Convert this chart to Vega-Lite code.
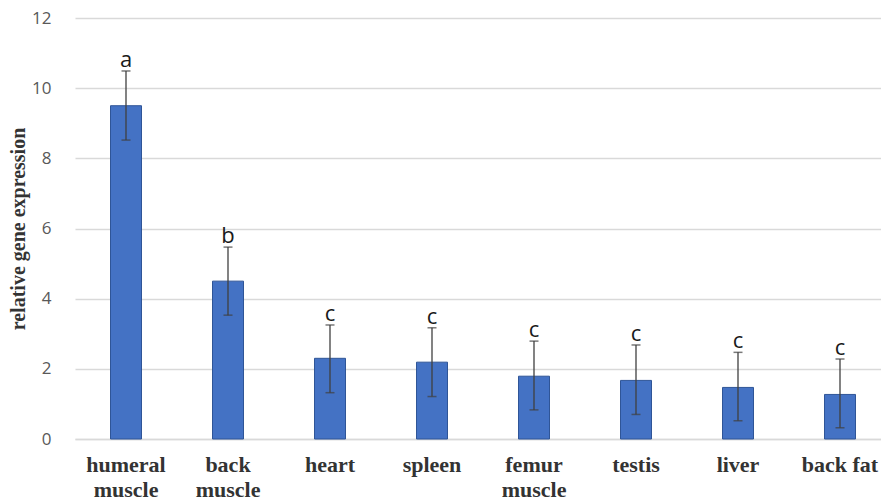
{
  "$schema": "https://vega.github.io/schema/vega-lite/v6.json",
  "autosize": "none",
  "width": 806,
  "height": 421,
  "padding": {"left": 75, "top": 18, "right": 0, "bottom": 63},
  "background": "white",
  "config": {"view": {"stroke": null}},
  "data": {
    "values": [
      {"tissue": "humeral muscle", "mean": 9.5, "lo": 8.52, "hi": 10.49, "sig": "a"},
      {"tissue": "back muscle", "mean": 4.5, "lo": 3.53, "hi": 5.47, "sig": "b"},
      {"tissue": "heart", "mean": 2.3, "lo": 1.32, "hi": 3.25, "sig": "c"},
      {"tissue": "spleen", "mean": 2.19, "lo": 1.21, "hi": 3.17, "sig": "c"},
      {"tissue": "femur muscle", "mean": 1.79, "lo": 0.83, "hi": 2.79, "sig": "c"},
      {"tissue": "testis", "mean": 1.67, "lo": 0.7, "hi": 2.68, "sig": "c"},
      {"tissue": "liver", "mean": 1.47, "lo": 0.52, "hi": 2.47, "sig": "c"},
      {"tissue": "back fat", "mean": 1.27, "lo": 0.32, "hi": 2.28, "sig": "c"}
    ]
  },
  "encoding": {
    "x": {
      "field": "tissue",
      "type": "nominal",
      "sort": null,
      "scale": {"range": [0, 816], "paddingInner": 0.7, "paddingOuter": 0.35},
      "axis": {
        "title": null,
        "labelAngle": 0,
        "labelFont": "Liberation Serif",
        "labelFontWeight": "bold",
        "labelFontSize": 22,
        "labelColor": "#333333",
        "labelPadding": 15,
        "labelLineHeight": 25,
        "labelExpr": "datum.label == 'humeral muscle' ? ['humeral','muscle'] : datum.label == 'back muscle' ? ['back','muscle'] : datum.label == 'femur muscle' ? ['femur','muscle'] : datum.label",
        "ticks": false,
        "domainColor": "#d9d9d9",
        "domainWidth": 1.5,
        "grid": false
      }
    }
  },
  "layer": [
    {
      "mark": {"type": "bar", "size": 31, "color": "#4472C4", "stroke": "#2f5597", "strokeWidth": 1},
      "encoding": {
        "y": {
          "field": "mean",
          "type": "quantitative",
          "scale": {"domain": [0, 12]},
          "axis": {
            "values": [0, 2, 4, 6, 8, 10, 12],
            "title": "relative gene expression",
            "titleFont": "Liberation Serif",
            "titleFontWeight": "bold",
            "titleFontSize": 20,
            "titleColor": "#333333",
            "titlePadding": 3,
            "labelFont": "Open Sans",
            "labelFontSize": 17,
            "labelColor": "#595959",
            "labelPadding": 24,
            "ticks": false,
            "domain": false,
            "gridColor": "#d9d9d9",
            "gridWidth": 1.5
          }
        }
      }
    },
    {
      "mark": {"type": "rule", "color": "#404040", "strokeWidth": 1.3},
      "encoding": {
        "y": {"field": "lo", "type": "quantitative"},
        "y2": {"field": "hi"}
      }
    },
    {
      "mark": {"type": "tick", "color": "#404040", "thickness": 1.5, "size": 9, "orient": "horizontal"},
      "encoding": {"y": {"field": "hi", "type": "quantitative"}}
    },
    {
      "mark": {"type": "tick", "color": "#404040", "thickness": 1.5, "size": 9, "orient": "horizontal"},
      "encoding": {"y": {"field": "lo", "type": "quantitative"}}
    },
    {
      "mark": {"type": "text", "font": "Open Sans", "fontSize": 22, "color": "#1a1a1a", "baseline": "alphabetic", "dy": -4},
      "encoding": {
        "y": {"field": "hi", "type": "quantitative"},
        "text": {"field": "sig"}
      }
    }
  ]
}
